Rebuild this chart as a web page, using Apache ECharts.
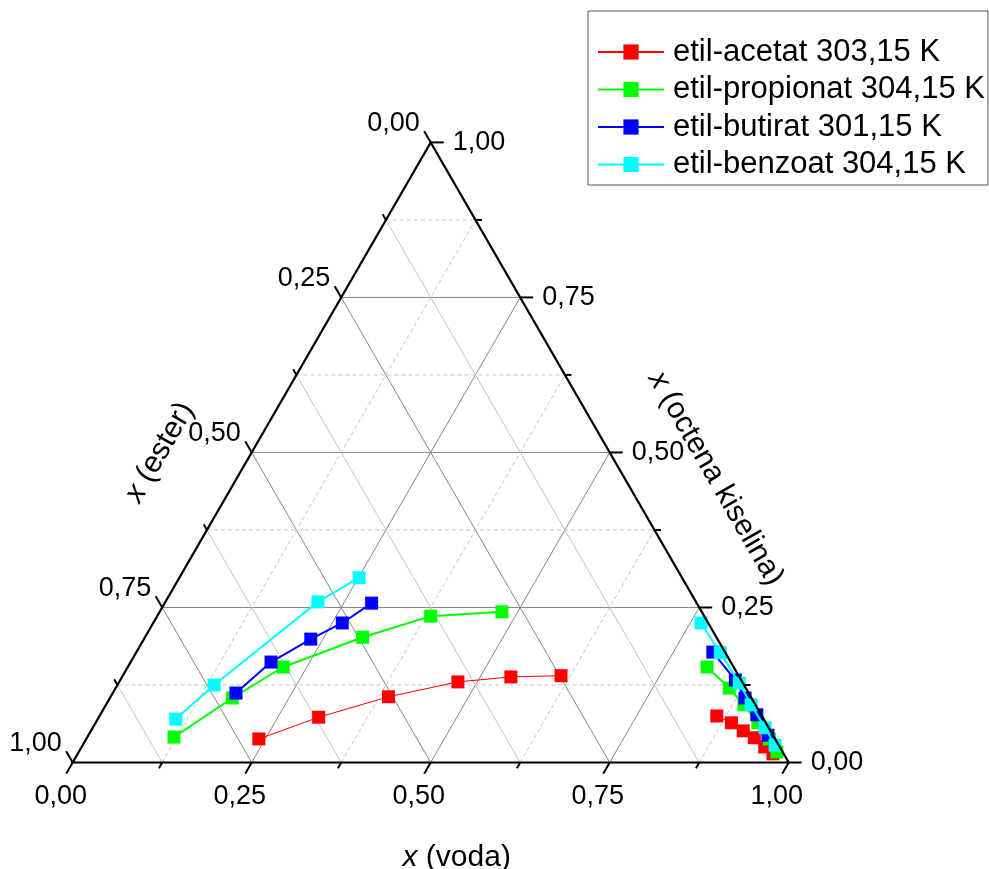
<!DOCTYPE html>
<html><head><meta charset="utf-8">
<script src="https://cdn.jsdelivr.net/npm/echarts@6/dist/echarts.min.js"></script>
<style>html,body{margin:0;padding:0;background:#fff}#c{width:989px;height:869px}</style>
</head><body><div id="c"></div>
<script>
// ---- DATA (mole fractions; x(ester) = 1 - x(voda) - x(octena kiselina)) ----
const seriesNames = ['etil-acetat 303,15 K','etil-propionat 304,15 K','etil-butirat 301,15 K','etil-benzoat 304,15 K'];
const seriesColors = ['#ff0000','#00ff00','#0000ff','#00ffff'];
// ester-rich branch
const acetatOrgVoda      = [0.241,0.307,0.388,0.473,0.543,0.612];
const acetatOrgOctena    = [0.038,0.073,0.106,0.130,0.138,0.140];
// water-rich branch
const acetatAqVoda       = [0.862,0.888,0.911,0.932,0.954,0.971];
const acetatAqOctena     = [0.075,0.064,0.051,0.040,0.025,0.014];

const propionatOrgVoda   = [0.121,0.171,0.217,0.304,0.382,0.478];
const propionatOrgOctena = [0.041,0.104,0.154,0.202,0.236,0.243];
const propionatAqVoda    = [0.809,0.857,0.891,0.925,0.954,0.975];
const propionatAqOctena  = [0.154,0.120,0.093,0.064,0.038,0.017];

const butiratOrgVoda     = [0.172,0.196,0.233,0.264,0.289];
const butiratOrgOctena   = [0.112,0.162,0.199,0.225,0.257];
const butiratAqVoda      = [0.805,0.859,0.887,0.917,0.949];
const butiratAqOctena    = [0.178,0.133,0.104,0.077,0.044];

const benzoatOrgVoda     = [0.109,0.135,0.213,0.251];
const benzoatOrgOctena   = [0.070,0.125,0.259,0.298];
const benzoatAqVoda      = [0.765,0.816,0.867,0.901,0.939,0.967];
const benzoatAqOctena    = [0.225,0.177,0.128,0.093,0.056,0.028];

const majorTicks = [0, 0.25, 0.5, 0.75, 1];
const minorTicks = [0.125, 0.375, 0.625, 0.875];
const tickLabels = ['0,00','0,25','0,50','0,75','1,00'];
const titleVoda = '{i|x} (voda)';
const titleEster = '{i|x} (ester)';
const titleOctena = '{i|x} (octena kiselina)';

// ---- ternary projection ----
const SQ = Math.sqrt(3) / 2;
function tern(v, o) { return [v + o / 2, o * SQ]; }
const FONT = '"Liberation Sans", Arial, sans-serif';

const MAJ = {stroke:'#868686', lineWidth:1};
const MIN_DASH = {stroke:'#c4c4c4', lineWidth:1, lineDash:[4,3]};
const MIN_SOLID = {stroke:'#c4c4c4', lineWidth:1};

function gridRender(params, api) {
  const ch = [];
  const seg = (a, b, st) => { const p1 = api.coord(a), p2 = api.coord(b);
    ch.push({type:'line', shape:{x1:p1[0],y1:p1[1],x2:p2[0],y2:p2[1]}, style:Object.assign({fill:null}, st)}); };
  const ts = majorTicks.slice(1, -1).concat(minorTicks);
  ts.forEach(t => {
    const major = majorTicks.indexOf(t) >= 0;
    seg(tern(0, t), tern(1 - t, t), major ? MAJ : MIN_DASH);      // const octena
    seg(tern(t, 0), tern(t, 1 - t), major ? MAJ : MIN_DASH);      // const voda
    seg(tern(1 - t, 0), tern(0, 1 - t), major ? MAJ : MIN_SOLID); // const ester
  });
  return {type:'group', children:ch};
}

function axisRender(params, api) {
  const ch = [];
  const A = api.coord(tern(0,0)), B = api.coord(tern(1,0)), C = api.coord(tern(0,1));
  ch.push({type:'polygon', shape:{points:[A,B,C]}, style:{fill:null, stroke:'#000', lineWidth:2.2, lineJoin:'miter'}});
  const tick = (p, d, len) => ch.push({type:'line', shape:{x1:p[0],y1:p[1],x2:p[0]+d[0]*len,y2:p[1]+d[1]*len}, style:{stroke:'#000', lineWidth:2}});
  const lab = (p, dx, dy, text, align) => ch.push({type:'text', x:p[0]+dx, y:p[1]+dy,
    style:{text, fontSize:27, fontFamily:FONT, fill:'#000', align, verticalAlign:'middle'}});
  const all = majorTicks.concat(minorTicks);
  all.forEach(t => {
    const mi = majorTicks.indexOf(t), major = mi >= 0, len = major ? 13 : 6.5;
    const pb = api.coord(tern(t, 0));            // bottom: voda
    const pl = api.coord(tern(0, 1 - t));        // left: ester = t
    const pr = api.coord(tern(1 - t, t));        // right: octena
    tick(pb, [-0.5, SQ], len);
    tick(pl, [-0.5, -SQ], len);
    tick(pr, [1, 0], len);
    if (major) {
      lab(pb, -12, 34.5, tickLabels[mi], 'center');
      lab(pl, -11, -18.5, tickLabels[mi], 'right');
      lab(pr, 22, 0, tickLabels[mi], 'left');
    }
  });
  const title = (p, dx, dy, text, rot) => ch.push({type:'text', x:p[0]+dx, y:p[1]+dy, rotation:rot,
    style:{text, fontSize:30, fontFamily:FONT, fill:'#000', align:'center', verticalAlign:'middle',
      rich:{i:{fontStyle:'italic', fontSize:30, fontFamily:FONT, fill:'#000'}}}});
  title(api.coord(tern(0.5, 0)), 26, 95, titleVoda, 0);
  title(api.coord(tern(0, 0.5)), -92, 0, titleEster, Math.PI / 3);
  title(api.coord(tern(0.5, 0.5)), 106, 26, titleOctena, -Math.PI / 3);
  return {type:'group', children:ch};
}

function lineSeries(idx, vArr, oArr) {
  const color = seriesColors[idx];
  return {type:'line', name:seriesNames[idx], data:vArr.map((v, i) => tern(v, oArr[i])),
    symbol:'rect', symbolSize:13, showAllSymbol:true,
    itemStyle:{color}, lineStyle:{color, width: idx === 0 ? 1 : 2},
    emphasis:{disabled:true}, z:5 + idx, animation:false};
}

const chart = echarts.init(document.getElementById('c'), null, {renderer:'canvas'});
chart.setOption({
  animation:false,
  backgroundColor:'#fff',
  grid:{left:72.7, top:142.4, width:716, height:620.1},
  xAxis:{type:'value', min:0, max:1, show:false},
  yAxis:{type:'value', min:0, max:SQ, show:false},
  legend:{orient:'vertical', left:588, top:11, padding:[25.5,3,5,9], itemGap:6.5,
    itemWidth:66, itemHeight:19, backgroundColor:'#fff', borderColor:'#555', borderWidth:1,
    textStyle:{fontSize:31, fontFamily:FONT, color:'#000', padding:[0,0,0,4]},
    data:seriesNames},
  series:[
    {type:'custom', coordinateSystem:'cartesian2d', renderItem:gridRender, data:[[0,0]], z:1, clip:false, silent:true},
    lineSeries(0, acetatOrgVoda, acetatOrgOctena),
    lineSeries(0, acetatAqVoda, acetatAqOctena),
    lineSeries(1, propionatOrgVoda, propionatOrgOctena),
    lineSeries(1, propionatAqVoda, propionatAqOctena),
    lineSeries(2, butiratOrgVoda, butiratOrgOctena),
    lineSeries(2, butiratAqVoda, butiratAqOctena),
    lineSeries(3, benzoatOrgVoda, benzoatOrgOctena),
    lineSeries(3, benzoatAqVoda, benzoatAqOctena),
    {type:'custom', coordinateSystem:'cartesian2d', renderItem:axisRender, data:[[0,0]], z:20, clip:false, silent:true}
  ]
});
</script></body></html>
